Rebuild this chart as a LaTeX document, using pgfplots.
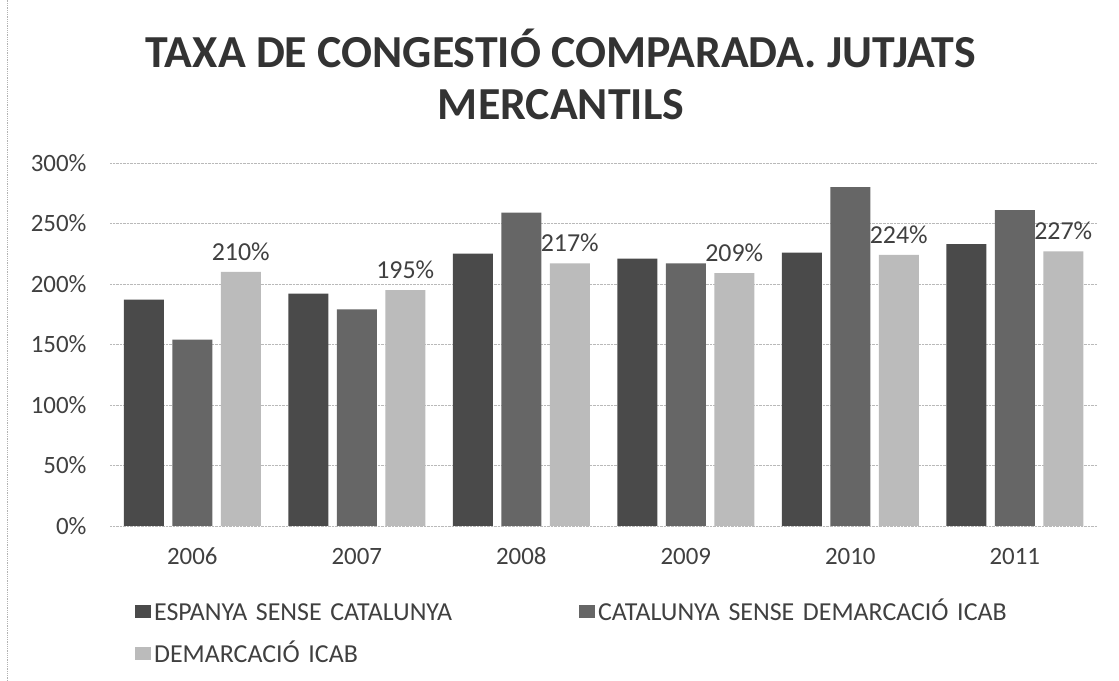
\documentclass[border=0pt]{standalone}
\usepackage{pgfplots}
\pgfplotsset{compat=1.18}
\usepackage{fontspec}
\setmainfont{Carlito}
\definecolor{cdark}{HTML}{4A4A4A}
\definecolor{cmed}{HTML}{666666}
\definecolor{clight}{HTML}{BBBBBB}
\definecolor{ctext}{HTML}{404040}
\begin{document}
\begin{tikzpicture}
\path[use as bounding box] (0,0) rectangle (1119bp,681bp);
\fill[white] (0,0) rectangle (1119bp,681bp);
\draw[gray!60, densely dotted, line width=0.8bp] (7bp,0) -- (7bp,681bp);
\node[anchor=base, font=\fontsize{46}{52}\selectfont\bfseries, text=black!80] at (561bp,613bp) {TAXA DE CONGESTIÓ COMPARADA. JUTJATS};
\node[anchor=base, font=\fontsize{46}{52}\selectfont\bfseries, text=black!80] at (561bp,561bp) {MERCANTILS};
\begin{axis}[
  at={(110bp,155bp)}, anchor=south west,
  scale only axis, width=987bp, height=363bp,
  xmin=-0.5, xmax=5.5, ymin=0, ymax=300,
  ybar=8.5bp, bar width=40bp,
  axis line style={draw=none},
  major tick length=0pt,
  xtick={0,...,5}, xticklabels={2006,2007,2008,2009,2010,2011},
  ytick={0,50,...,300},
  yticklabel={\pgfmathprintnumber{\tick}\%},
  /pgf/number format/assume math mode=true,
  ymajorgrids, grid style={gray!55, densely dotted, line width=0.8bp},
  tick label style={font=\fontsize{25}{30}\selectfont, text=ctext},
  xticklabel style={yshift=-18bp, text height=17bp, text depth=0pt},
  yticklabel style={xshift=-20bp},
  legend style={at={(0.0253,-0.2094)}, anchor=north west, draw=none, fill=none,
    legend columns=2, inner sep=0pt, font=\fontsize{26}{30}\selectfont, text=ctext,
    cells={anchor=west}, nodes={inner sep=0pt, text depth=0pt, text height=18bp, text width=425bp, align=left},
    row sep=24bp, /tikz/every odd column/.append style={column sep=3bp}},
  legend image code/.code={\fill[#1] (0bp,-6.5bp) rectangle (16bp,6.5bp);},
]
\addplot[fill=cdark, draw=none] coordinates {(0,187) (1,192) (2,225) (3,221) (4,226) (5,233)};
\addplot[fill=cmed, draw=none] coordinates {(0,154) (1,179) (2,259) (3,217) (4,280) (5,261)};
\addplot[fill=clight, draw=none, nodes near coords={\pgfmathprintnumber{\pgfplotspointmeta}\%},
  nodes near coords style={font=\fontsize{26}{30}\selectfont, text=ctext, yshift=8bp}]
  coordinates {(0,210) (1,195) (2,217) (3,209) (4,224) (5,227)};
\legend{ESPANYA SENSE CATALUNYA, CATALUNYA SENSE DEMARCACIÓ ICAB, DEMARCACIÓ ICAB}
\end{axis}
\end{tikzpicture}
\end{document}
